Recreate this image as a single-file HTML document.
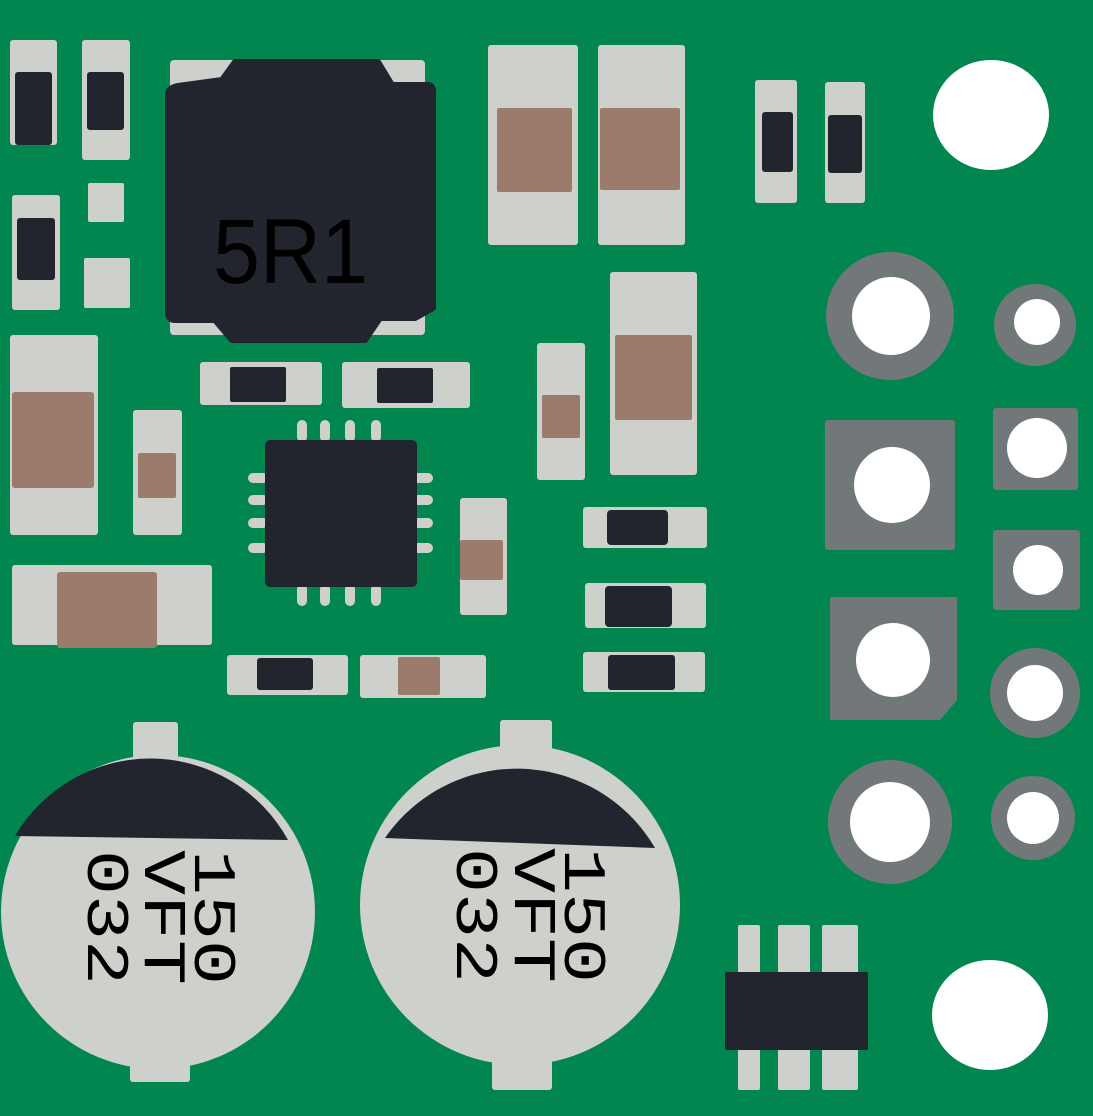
<!DOCTYPE html>
<html><head><meta charset="utf-8"><style>html,body{margin:0;padding:0;background:#018650}svg{display:block}</style></head>
<body>
<svg width="1093" height="1116" viewBox="0 0 1093 1116" xmlns="http://www.w3.org/2000/svg">
<rect width="1093" height="1116" fill="#018650"/>
<g fill="#cdd0cb">
<rect x="10" y="40" width="47" height="105" rx="3"/>
<rect x="82" y="40" width="48" height="120" rx="3"/>
<rect x="12" y="195" width="48" height="115" rx="3"/>
<rect x="88" y="183" width="36" height="39" rx="2"/>
<rect x="84" y="258" width="46" height="50" rx="2"/>
<rect x="170" y="60" width="255" height="275" rx="4"/>
<rect x="488" y="45" width="90" height="200" rx="3"/>
<rect x="598" y="45" width="87" height="200" rx="3"/>
<rect x="755" y="80" width="42" height="123" rx="3"/>
<rect x="825" y="82" width="40" height="121" rx="3"/>
<rect x="10" y="335" width="88" height="200" rx="3"/>
<rect x="133" y="410" width="49" height="125" rx="3"/>
<rect x="12" y="565" width="200" height="80" rx="3"/>
<rect x="200" y="362" width="122" height="43" rx="3"/>
<rect x="342" y="362" width="128" height="46" rx="3"/>
<rect x="537" y="343" width="48" height="137" rx="3"/>
<rect x="610" y="272" width="87" height="203" rx="3"/>
<rect x="460" y="498" width="47" height="117" rx="3"/>
<rect x="583" y="507" width="124" height="41" rx="3"/>
<rect x="585" y="583" width="121" height="45" rx="3"/>
<rect x="583" y="652" width="122" height="40" rx="3"/>
<rect x="227" y="655" width="121" height="40" rx="3"/>
<rect x="360" y="655" width="126" height="43" rx="3"/>
<rect x="738" y="925" width="22" height="165" rx="2"/>
<rect x="778" y="925" width="32" height="165" rx="2"/>
<rect x="822" y="925" width="36" height="165" rx="2"/>
<rect x="133" y="722" width="45" height="40" rx="3"/>
<rect x="130" y="1040" width="60" height="42" rx="3"/>
<rect x="500" y="720" width="52" height="40" rx="3"/>
<rect x="492" y="1045" width="60" height="45" rx="3"/>
<rect x="248" y="473" width="20" height="10" rx="5"/><rect x="248" y="495" width="20" height="10" rx="5"/>
<rect x="248" y="518" width="20" height="10" rx="5"/><rect x="248" y="543" width="20" height="10" rx="5"/>
<rect x="413" y="473" width="20" height="10" rx="5"/><rect x="413" y="495" width="20" height="10" rx="5"/>
<rect x="413" y="518" width="20" height="10" rx="5"/><rect x="413" y="543" width="20" height="10" rx="5"/>
<rect x="297" y="420" width="10" height="22" rx="5"/><rect x="320" y="420" width="10" height="22" rx="5"/>
<rect x="345" y="420" width="10" height="22" rx="5"/><rect x="371" y="420" width="10" height="22" rx="5"/>
<rect x="297" y="584" width="10" height="22" rx="5"/><rect x="320" y="584" width="10" height="22" rx="5"/>
<rect x="345" y="584" width="10" height="22" rx="5"/><rect x="371" y="584" width="10" height="22" rx="5"/>
<circle cx="158" cy="912" r="157"/>
<circle cx="520" cy="905" r="160"/>
</g>
<g fill="#22252e">
<rect x="15" y="72" width="37" height="73" rx="3"/>
<rect x="87" y="72" width="37" height="58" rx="3"/>
<rect x="17" y="218" width="38" height="62" rx="3"/>
<path d="M235 62 H378 L392 85 H428 Q433 85 433 92 V308 L415 318 H380 L365 340 H232 L215 320 H175 Q168 320 168 312 V95 Q168 88 178 86 L222 80 Z" stroke="#22252e" stroke-width="6" stroke-linejoin="round"/>
<rect x="762" y="112" width="31" height="60" rx="3"/>
<rect x="828" y="115" width="34" height="58" rx="3"/>
<rect x="230" y="367" width="56" height="35" rx="2"/>
<rect x="377" y="368" width="56" height="35" rx="2"/>
<rect x="265" y="440" width="152" height="147" rx="5"/>
<rect x="607" y="510" width="61" height="35" rx="4"/>
<rect x="605" y="586" width="67" height="41" rx="4"/>
<rect x="608" y="655" width="67" height="35" rx="3"/>
<rect x="257" y="658" width="56" height="32" rx="3"/>
<rect x="725" y="972" width="143" height="78" rx="2"/>
<path d="M15 836 A157 157 0 0 1 288 840 Z"/>
<path d="M385 838 A160 160 0 0 1 655 848 Z"/>
</g>
<g fill="#9b7b6b">
<rect x="497" y="108" width="75" height="84" rx="2"/>
<rect x="600" y="108" width="80" height="82" rx="2"/>
<rect x="12" y="392" width="82" height="96" rx="3"/>
<rect x="138" y="453" width="38" height="45" rx="2"/>
<rect x="57" y="572" width="100" height="76" rx="3"/>
<rect x="542" y="395" width="38" height="43" rx="2"/>
<rect x="615" y="335" width="77" height="85" rx="2"/>
<rect x="460" y="540" width="43" height="40" rx="2"/>
<rect x="398" y="657" width="42" height="38" rx="2"/>
</g>
<text x="213" y="283" font-family="Liberation Sans, sans-serif" font-size="92" textLength="155" lengthAdjust="spacingAndGlyphs" fill="#000">5R1</text>
<g font-family="Liberation Mono, monospace" font-size="60" fill="#000">
<g transform="translate(195,850) rotate(90)">
<text x="0" y="0" textLength="135" lengthAdjust="spacingAndGlyphs">150</text>
<text x="0" y="50" textLength="135" lengthAdjust="spacingAndGlyphs">VFT</text>
<text x="0" y="107" textLength="135" lengthAdjust="spacingAndGlyphs">032</text>
</g>
<g transform="translate(565,848) rotate(90)">
<text x="0" y="0" textLength="135" lengthAdjust="spacingAndGlyphs">150</text>
<text x="0" y="50" textLength="135" lengthAdjust="spacingAndGlyphs">VFT</text>
<text x="0" y="108" textLength="135" lengthAdjust="spacingAndGlyphs">032</text>
</g>
</g>
<g fill="#72777a">
<circle cx="890" cy="316" r="64"/>
<circle cx="1035" cy="325" r="41"/>
<rect x="825" y="420" width="130" height="130" rx="3"/>
<rect x="993" y="408" width="85" height="82" rx="3"/>
<rect x="993" y="530" width="87" height="80" rx="3"/>
<path d="M830 597 H957 V700 L940 720 H830 Z"/>
<circle cx="1035" cy="693" r="45"/>
<circle cx="890" cy="822" r="62"/>
<circle cx="1033" cy="818" r="42"/>
</g>
<g fill="#ffffff">
<ellipse cx="991" cy="115" rx="58" ry="55"/>
<circle cx="891" cy="316" r="39"/>
<circle cx="1037" cy="322" r="23"/>
<circle cx="892" cy="485" r="38"/>
<circle cx="1037" cy="448" r="30"/>
<circle cx="1038" cy="570" r="25"/>
<circle cx="893" cy="660" r="37"/>
<circle cx="1035" cy="693" r="28"/>
<circle cx="890" cy="822" r="40"/>
<circle cx="1033" cy="818" r="26"/>
<ellipse cx="990" cy="1015" rx="58" ry="55"/>
</g>
</svg>
</body></html>
